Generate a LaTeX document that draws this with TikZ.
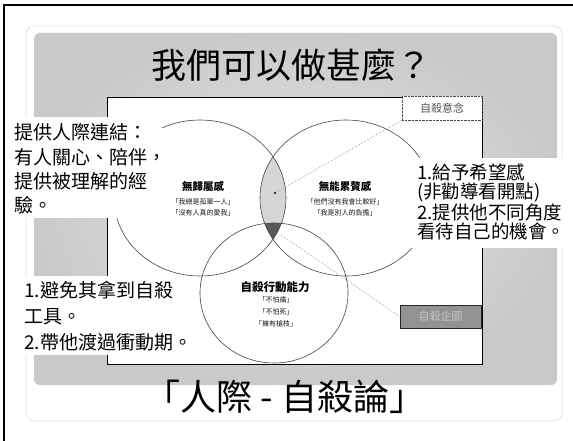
\documentclass[tikz,border=0pt]{standalone}
\usepackage{fontspec}
\newfontfamily\cjk{Noto Sans CJK TC}
\begin{document}
\begin{tikzpicture}[x=1pt,y=-1pt,
  txt/.style={font=\cjk\fontsize{19}{24.3}\selectfont, align=left, inner sep=0pt, anchor=west},
  lab/.style={font=\cjk\bfseries\fontsize{10.5}{12}\selectfont, inner sep=0pt},
  sub/.style={font=\cjk\fontsize{7}{8}\selectfont, inner sep=0pt, text=gray!20!black},
  vc/.style={draw=gray!55!black, line width=0.6pt},
  link/.style={draw=gray!60, line width=0.6pt, dash pattern=on 2pt off 1.5pt},
  cover/.style={fill=white, draw=none}
]
\useasboundingbox (0,0) rectangle (573,441);
% page frame
\draw[line width=2pt] (4,441) -- (4,5) -- (573,5);
% slide frame and grey panel
\draw[gray!60, densely dotted, rounded corners=8pt, line width=0.6pt] (26,26) rectangle (562,421);
\shade[rounded corners=6pt, inner color=gray!18, outer color=gray!42] (34,33) rectangle (557,385);
\draw[black, line width=0.6pt, fill=white] (107,97) rectangle (482,364);
% titles
\node[font=\cjk\fontsize{35}{35}\selectfont] (title) at (291,65) {我們可以做甚麼？};
\node[font=\cjk\fontsize{36}{36}\selectfont] (foot) at (285,397) {「人際 - 自殺論」};
% Venn fills
\begin{scope}
  \clip (200,198) ellipse [x radius=86pt, y radius=78pt];
  \fill[gray!32] (346,198) ellipse [x radius=86pt, y radius=78pt];
  \clip (346,198) ellipse [x radius=86pt, y radius=78pt];
  \fill[gray!70!black] (274,293) ellipse [x radius=74pt, y radius=70pt];
\end{scope}
% Venn circles
\draw[vc] (200,198) ellipse [x radius=86pt, y radius=78pt];
\draw[vc] (346,198) ellipse [x radius=86pt, y radius=78pt];
\draw[vc] (274,293) ellipse [x radius=74pt, y radius=70pt];
% labels in circles
\node[lab] (la) at (203,186) {無歸屬感};
\node[sub] (la1) at (203,202) {「我總是孤單一人」};
\node[sub] (la2) at (203,213) {「沒有人真的愛我」};
\node[lab] (lb) at (345,186) {無能累贅感};
\node[sub] (lb1) at (345,202) {「他們沒有我會比較好」};
\node[sub] (lb2) at (345,213) {「我是別人的負擔」};
\node[lab, font=\cjk\bfseries\fontsize{11.5}{12}\selectfont] (lc) at (275,287) {自殺行動能力};
\node[sub] (lc1) at (276,300) {「不怕痛」};
\node[sub] (lc2) at (276,312) {「不怕死」};
\node[sub] (lc3) at (276,324) {「擁有槍枝」};
% boxes
\node[draw=gray!60!black, densely dotted, fill=white, minimum width=80pt, minimum height=24pt, inner sep=0pt,
      font=\cjk\fontsize{11}{12}\selectfont, text=gray!65!black] (yinian) at (442,108) {自殺意念};
\node[draw=gray!30!black, fill=gray!85, minimum width=81pt, minimum height=23pt, inner sep=0pt,
      font=\cjk\fontsize{11}{12}\selectfont, text=gray!45] (qitu) at (440.5,316.5) {自殺企圖};
% dot and links
\node[circle, fill=black, inner sep=0pt, minimum size=2.2pt] (dot) at (275,193) {};
\coordinate (tri) at (281,235);
\draw[link] (dot) -- (yinian.south west);
\draw[link] (tri) -- (qitu.west);
% white covers behind side texts
\fill[cover] (8,117) rectangle (162,218);
\fill[cover] (20,276) rectangle (185,355);
\fill[cover] (412,158) rectangle (570,248);
% side texts
\node[txt] (tl) at (14,169) {提供人際連結：\\有人關心、陪伴，\\提供被理解的經\\驗。};
\node[txt, font=\cjk\fontsize{18.5}{19.2}\selectfont] (tr) at (417,202) {1.給予希望感\\(非勸導看開點)\\2.提供他不同角度\\看待自己的機會。};
\node[txt, font=\cjk\fontsize{19}{26}\selectfont] (bl) at (24,316) {1.避免其拿到自殺\\工具。\\2.帶他渡過衝動期。};
\end{tikzpicture}
\end{document}
